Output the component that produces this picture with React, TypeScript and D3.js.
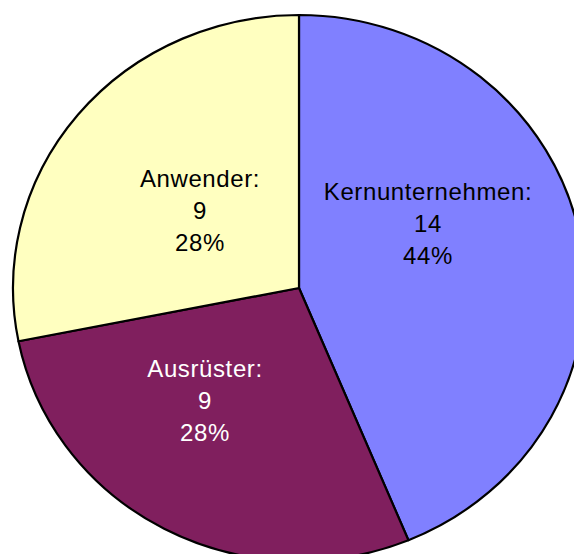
import React from "react";
import * as d3 from "d3";

const categories = ["Kernunternehmen", "Ausrüster", "Anwender"];
const values = [14, 9, 9];
const percentLabels = ["44%", "28%", "28%"];

const colors = ["#8080FF", "#801F5E", "#FFFFC0"];
const textColors = ["#000000", "#FFFFFF", "#000000"];
// label anchor layout (pixel positions of first baseline)
const labelAnchors: [number, number][] = [
  [428, 200],
  [205, 377],
  [200, 187],
];

const W = 574;
const H = 554;
const cx = 299;
const cy = 288;
const rx = 286;
const ry = 273;

export default function App() {
  const pie = d3.pie<number>().sort(null).value((d) => d);
  const arcs = pie(values);
  const arc = d3.arc<d3.PieArcDatum<number>>().innerRadius(0).outerRadius(rx);
  return (
    <svg width={W} height={H} style={{ position: "absolute", left: 0, top: 0 }}>
      <rect width={W} height={H} fill="#fff" />
      <g transform={`translate(${cx},${cy}) scale(1,${ry / rx})`}>
        {arcs.map((a, i) => (
          <path
            key={i}
            d={arc(a) || ""}
            fill={colors[i]}
            stroke="#000"
            strokeWidth={2.2}
            strokeLinejoin="round"
            vectorEffect="non-scaling-stroke"
          />
        ))}
      </g>
      {arcs.map((a, i) => {
        const [x, y] = labelAnchors[i];
        const lines = [categories[i] + ":", String(values[i]), percentLabels[i]];
        return (
          <text
            key={i}
            x={x}
            y={y}
            textAnchor="middle"
            fontFamily="Liberation Sans, Arial, sans-serif"
            fontSize={24}
            letterSpacing={0.6}
            fill={textColors[i]}
          >
            {lines.map((l, j) => (
              <tspan key={j} x={x} dy={j === 0 ? 0 : 32}>
                {l}
              </tspan>
            ))}
          </text>
        );
      })}
    </svg>
  );
}
